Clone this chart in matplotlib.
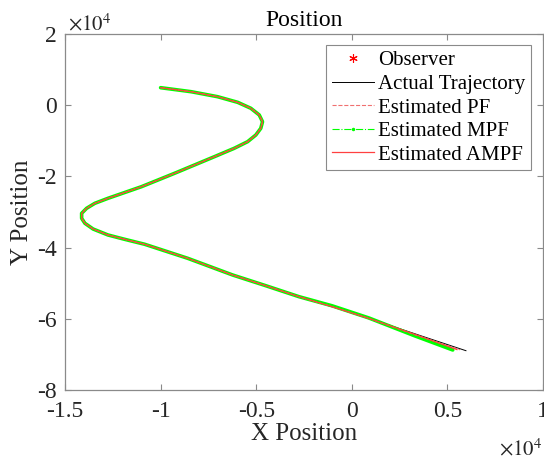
import matplotlib
matplotlib.use('Agg')
import matplotlib.pyplot as plt
from matplotlib.lines import Line2D

plt.rcParams['font.family'] = ['Liberation Serif', 'DejaVu Serif']
plt.rcParams['mathtext.fontset'] = 'stix'

# observer position is not inside the visible window
observer_x = []
observer_y = []

# common part of all tracks
head_x = [-10000, -8400, -7020, -5970, -5280, -4840, -4670, -4760, -5020, -5450,
          -6150, -7190, -9270, -11000, -12750, -13440, -13870, -14130, -14130,
          -13960, -13530, -12750, -11880, -10830, -8580, -6230, -4500, -2760]
head_y = [4920, 3790, 2390, 810, -870, -2750, -4640, -6490, -8370, -10250,
          -12110, -14470, -19130, -22890, -26150, -27560, -28960, -30370, -31770,
          -33170, -34780, -36460, -37670, -39070, -43010, -47700, -50700, -53790]

# where the tracks split near the end
actual_x = head_x + [-1030, 885, 3490, 5970]
actual_y = head_y + [-56600, -59860, -64550, -68960]
pf_x = head_x + [-1030, 885, 3420, 5660]
pf_y = head_y + [-56600, -59880, -64700, -68700]
mpf_x = head_x + [-1030, 885, 3300, 5280]
mpf_y = head_y + [-56350, -59750, -64800, -68760]
ampf_x = head_x + [-1030, 885, 3450, 5500]
ampf_y = head_y + [-56600, -59870, -64650, -68650]

x_ticks = [-15000, -10000, -5000, 0, 5000, 10000]
x_labels = ['-1.5', '-1', '-0.5', '0', '0.5', '1']
y_ticks = [-80000, -60000, -40000, -20000, 0, 20000]
y_labels = ['-8', '-6', '-4', '-2', '0', '2']

axis_gray = '#8a8a8a'
text_gray = '#262626'
pf_color = '#f07070'
ampf_color = '#ff4040'
mpf_color = '#00ff00'

fig = plt.figure(figsize=(5.44, 4.59), dpi=100)
ax = fig.add_axes([65 / 544, 69 / 459, 478 / 544, 356 / 459])

ax.plot(observer_x, observer_y, color='red', marker=(6, 2, 0), ls='none', ms=6)
ax.plot(actual_x, actual_y, color='black', lw=0.7)
ax.plot(mpf_x, mpf_y, color=mpf_color, lw=2.6, solid_capstyle='round',
        solid_joinstyle='round')
ax.plot(pf_x, pf_y, color=pf_color, lw=0.8, ls='--')
ax.plot(ampf_x, ampf_y, color=ampf_color, lw=0.9, solid_joinstyle='round')

ax.set_xlim(-15000, 10000)
ax.set_ylim(-80000, 20000)
ax.set_xticks(x_ticks)
ax.set_xticklabels(x_labels)
ax.set_yticks(y_ticks)
ax.set_yticklabels(y_labels)
ax.tick_params(direction='in', length=4, width=0.8, colors=axis_gray,
               labelcolor=text_gray, labelsize=17, top=True, right=True)
ax.tick_params(axis='x', pad=8)
ax.tick_params(axis='y', pad=6)
for s in ax.spines.values():
    s.set_color(axis_gray)
    s.set_linewidth(0.9)

ax.set_title('Position', fontsize=17, color='black', pad=6)
ax.set_xlabel('X Position', fontsize=18, color=text_gray, labelpad=1)
ax.set_ylabel('Y Position', fontsize=18, color=text_gray, labelpad=3)

ax.text(0.006, 1.011, r'$\times10^{4}$', transform=ax.transAxes, fontsize=15,
        color=text_gray, ha='left', va='baseline')
ax.text(0.998, -0.183, r'$\times10^{4}$', transform=ax.transAxes, fontsize=15,
        color=text_gray, ha='right', va='baseline')

handles = [
    Line2D([], [], color='red', marker=(6, 2, 0), ls='none', ms=6, mew=0.8),
    Line2D([], [], color='black', lw=0.7),
    Line2D([], [], color=pf_color, lw=0.8, ls='--'),
    Line2D([], [], color=mpf_color, lw=0.8, ls='-.', marker='.', ms=3),
    Line2D([], [], color=ampf_color, lw=0.9),
]
names = ['Observer', 'Actual Trajectory', 'Estimated PF', 'Estimated MPF', 'Estimated AMPF']
leg = ax.legend(handles, names, loc='upper right', bbox_to_anchor=(0.975, 0.969),
                borderaxespad=0, fontsize=15, handlelength=2.0, handletextpad=0.2,
                labelspacing=0.19, borderpad=0.28, fancybox=False, framealpha=1,
                edgecolor=axis_gray)
leg.get_frame().set_linewidth(0.8)

fig.savefig('out.png', dpi=100)
